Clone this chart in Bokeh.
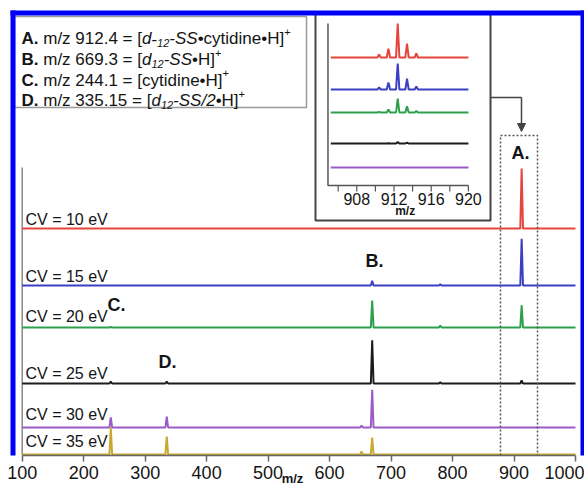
from bokeh.plotting import figure
from bokeh.models import (Range1d, LinearAxis, FixedTicker, BoxAnnotation, Label,
                          Arrow, NormalHead, ColumnDataSource)
from bokeh.embed import file_html
from bokeh.resources import INLINE
from bokeh.core.properties import value

# ---------------- data ----------------
cv_labels = ["CV = 10 eV", "CV = 15 eV", "CV = 20 eV", "CV = 25 eV", "CV = 30 eV", "CV = 35 eV"]
trace_colors = ["#e5453c", "#3c3fc2", "#2e9f4c", "#1c1c1c", "#9a5bc8", "#c9a832"]

peak_mz = [244.1, 335.15, 652.0, 669.3, 780.0, 912.4]
int_cv10 = [0, 0, 0, 0, 0, 100]
int_cv15 = [0, 0, 0, 8, 2, 78]
int_cv20 = [1, 0, 0, 45, 3, 37]
int_cv25 = [3, 3, 0, 72, 2, 5]
int_cv30 = [17, 18, 3, 63, 0, 0]
int_cv35 = [45, 30, 5, 28, 0, 0]
main_series = [int_cv10, int_cv15, int_cv20, int_cv25, int_cv30, int_cv35]

inset_mz = [910.4, 911.4, 912.4, 913.4, 914.4]
inset_cv10 = [9, 26, 100, 41, 12]
inset_cv15 = [6, 21, 76, 32, 9]
inset_cv20 = [2, 9, 41, 18, 4]
inset_cv25 = [0, 1, 4, 3, 0]
inset_cv30 = [0, 0, 0, 0, 0]
inset_series = [inset_cv10, inset_cv15, inset_cv20, inset_cv25, inset_cv30]

main_ticks = [100, 200, 300, 400, 500, 600, 700, 800, 900, 1000]
inset_ticks = [906, 908, 910, 912, 914, 916, 918, 920]
inset_tick_labels = ["908", "912", "916", "920"]
peak_letters = ["A.", "B.", "C.", "D."]

legend_lines = [
    [("A.", "b"), (" m/z 912.4 = [", "n"), ("d", "i"), ("-", "n"), ("12", "sub"), ("-SS", "i"),
     ("\u2022cytidine\u2022H]", "n"), ("+", "sup")],
    [("B.", "b"), (" m/z 669.3 = [", "n"), ("d", "i"), ("12", "sub"), ("-SS", "i"),
     ("\u2022H]", "n"), ("+", "sup")],
    [("C.", "b"), (" m/z 244.1 = [cytidine\u2022H]", "n"), ("+", "sup")],
    [("D.", "b"), (" m/z 335.15 = [", "n"), ("d", "i"), ("12", "sub"), ("-SS/2", "i"),
     ("\u2022H]", "n"), ("+", "sup")],
]

# ---------------- layout constants ----------------
W, H_TOTAL, FRAME_H = 584, 491, 455
FONT = "Liberation Sans"
TXT = "#141414"
main_baselines = [228, 285, 327, 383, 427, 454]
cv_label_y = [219, 276, 316, 373, 414, 441]
MAIN_SCALE = 0.60          # px per intensity unit
inset_baselines = [57, 89, 112, 143, 167]
INSET_SCALE = 0.34

p = figure(width=W, height=H_TOTAL, x_range=Range1d(0, W), y_range=Range1d(FRAME_H, 0),
           x_axis_type=None, y_axis_type=None, output_backend="svg", toolbar_location=None,
           min_border_left=0, min_border_right=0, min_border_top=0, min_border_bottom=H_TOTAL - FRAME_H)
p.outline_line_color = None
p.background_fill_color = "white"
p.border_fill_color = "white"

# m/z scales
mz_px0, mz_px1 = 21.7, 575.0
k = (mz_px1 - mz_px0) / 900.0
p.extra_x_ranges["mz"] = Range1d(100 - mz_px0 / k, 100 - mz_px0 / k + W / k)
ik = 9.3
p.extra_x_ranges["ix"] = Range1d(905 - 328.4 / ik, 905 - 328.4 / ik + W / ik)


def y_range_for(baseline, scale):
    return Range1d((baseline - FRAME_H) / scale, baseline / scale)


def spectrum(mz, inten, lo, hi, hw):
    xs, ys = [lo], [0]
    for m, h in sorted(zip(mz, inten)):
        if h <= 0:
            continue
        xs += [m - hw, m, m + hw]
        ys += [0, h, 0]
    xs.append(hi)
    ys.append(0)
    return xs, ys


def box(**kw):
    base = dict(fill_alpha=0, line_alpha=1)
    base.update(kw)
    return BoxAnnotation(**base)


# main axis
ax = LinearAxis(x_range_name="mz", ticker=FixedTicker(ticks=main_ticks), bounds=(100, 1000),
                axis_label="m/z")
ax.axis_line_color = "#666666"
ax.axis_line_width = 1.5
ax.major_tick_line_color = "#666666"
ax.major_tick_line_width = 1.5
ax.major_tick_out = 6
ax.major_tick_in = 0
ax.minor_tick_line_color = None
ax.major_label_text_font = FONT
ax.major_label_text_font_size = "18px"
ax.major_label_text_color = TXT
ax.major_label_standoff = 4
ax.axis_label_text_font = FONT
ax.axis_label_text_font_style = "bold"
ax.axis_label_text_font_size = "13px"
ax.axis_label_text_color = TXT
ax.axis_label_standoff = -11
p.add_layout(ax, "below")

# left vertical line of main plot
p.segment(x0=[100], y0=[167], x1=[100], y1=[FRAME_H], x_range_name="mz",
          line_color="#888888", line_width=1.5)

# main traces
for i, (ser, col, base) in enumerate(zip(main_series, trace_colors, main_baselines)):
    name = f"t{i}"
    p.extra_y_ranges[name] = y_range_for(base, MAIN_SCALE)
    xs, ys = spectrum(peak_mz, ser, 100, 1000, 2.2)
    p.line(xs, ys, x_range_name="mz", y_range_name=name, line_color=col, line_width=2)
    p.add_layout(Label(x=25, y=cv_label_y[i], text=cv_labels[i], text_font=FONT,
                       text_font_size="16px", text_color=TXT, text_baseline="middle"))

# peak letters
letter_pos = [(520, 152), (374, 260), (116, 304), (167, 361)]
for t, (lx, ly) in zip(peak_letters, letter_pos):
    p.add_layout(Label(x=lx, y=ly, text=t, text_font=FONT, text_font_style="bold",
                       text_font_size="18px", text_color=TXT, text_align="center",
                       text_baseline="middle"))

# inset box
p.add_layout(box(left=315, right=490, top=13, bottom=220, line_color="#444444", line_width=2))
# inset axes
p.line([904.9, 904.9, 920.0], [23, 185, 185], x_range_name="ix", line_color="#555555", line_width=1.5)
p.segment(x0=inset_ticks, y0=[185] * len(inset_ticks), x1=inset_ticks, y1=[191] * len(inset_ticks),
          x_range_name="ix", line_color="#555555", line_width=1.2)
src_it = ColumnDataSource(dict(x=[int(t) for t in inset_tick_labels], y=[198] * 4, t=inset_tick_labels))
p.text(x="x", y="y", text="t", source=src_it, x_range_name="ix", text_font=value(FONT),
       text_font_size=value("16px"), text_color=TXT, text_align="center", text_baseline="middle")
p.text(x=[913.2], y=[210], text=["m/z"], x_range_name="ix", text_font=value(FONT),
       text_font_style="bold", text_font_size=value("12px"), text_color=TXT,
       text_align="center", text_baseline="middle")
# inset traces
for i, (ser, col, base) in enumerate(zip(inset_series, trace_colors, inset_baselines)):
    name = f"i{i}"
    p.extra_y_ranges[name] = y_range_for(base, INSET_SCALE)
    xs, ys = spectrum(inset_mz, ser, 905.2, 920.0, 0.18)
    p.line(xs, ys, x_range_name="ix", y_range_name=name, line_color=col, line_width=2)

# arrow from inset to region A
p.line([490, 521], [97, 97], line_color="#444444", line_width=1.5)
p.add_layout(Arrow(end=NormalHead(size=8, fill_color="#444444", line_color="#444444"),
                   x_start=521, y_start=97, x_end=521, y_end=131, line_color="#444444", line_width=1.5))

# dotted box around m/z ~ 900
p.add_layout(box(left=500, right=537, top=135, bottom=492, line_color="#555555",
                 line_width=1.5, line_dash="2 2"))

# legend box with formulas
p.add_layout(box(left=14, right=306, top=16, bottom=107, line_color="#9a9a9a", line_width=1.5))

WIDTHS = {' ': 278, '+': 584, '-': 333, '.': 278, '/': 278, '=': 584, 'A': 667, 'B': 667,
          'C': 722, 'D': 722, 'H': 722, 'S': 667, '[': 278, ']': 278, 'c': 500, 'd': 556,
          'e': 556, 'i': 222, 'm': 833, 'n': 556, 't': 278, 'y': 500, 'z': 500, '\u2022': 350}
BOLD_W = {'A': 722, 'B': 722, 'C': 722, 'D': 722}


def text_w(s, size, bold=False):
    tot = 0
    for ch in s:
        if bold and ch in BOLD_W:
            tot += BOLD_W[ch]
        else:
            tot += WIDTHS.get(ch, 556)
    return tot * size / 1000.0


FS, SUBFS = 17, 11
line_y = [38, 59, 79.5, 100]
for segs, ly in zip(legend_lines, line_y):
    cx = 21
    for txt, st in segs:
        size, dy, style = FS, 0, "normal"
        if st == "b":
            style = "bold"
        elif st == "i":
            style = "italic"
        elif st == "sub":
            size, dy, style = SUBFS, 4, "italic"
        elif st == "sup":
            size, dy = SUBFS, -7
        core = txt.lstrip(" ")
        cx += text_w(txt[:len(txt) - len(core)], size)
        trail = core[len(core.rstrip(" ")):]
        core = core.rstrip(" ")
        p.add_layout(Label(x=cx, y=ly + dy, text=core, text_font=FONT, text_font_style=style,
                           text_font_size=f"{size}px", text_color=TXT,
                           text_baseline="alphabetic"))
        cx += text_w(core, size, st == "b") + text_w(trail, size)

# blue outer border
BLUE = "#0000f5"
for l, r, t, b in [(10, 584, 10, 15), (10, 15, 10, 491), (580, 584, 10, 491)]:
    p.add_layout(box(left=l, right=r, top=t, bottom=b, fill_color=BLUE, fill_alpha=1,
                     line_color=None))

open("out.html", "w").write(file_html(p, INLINE))
